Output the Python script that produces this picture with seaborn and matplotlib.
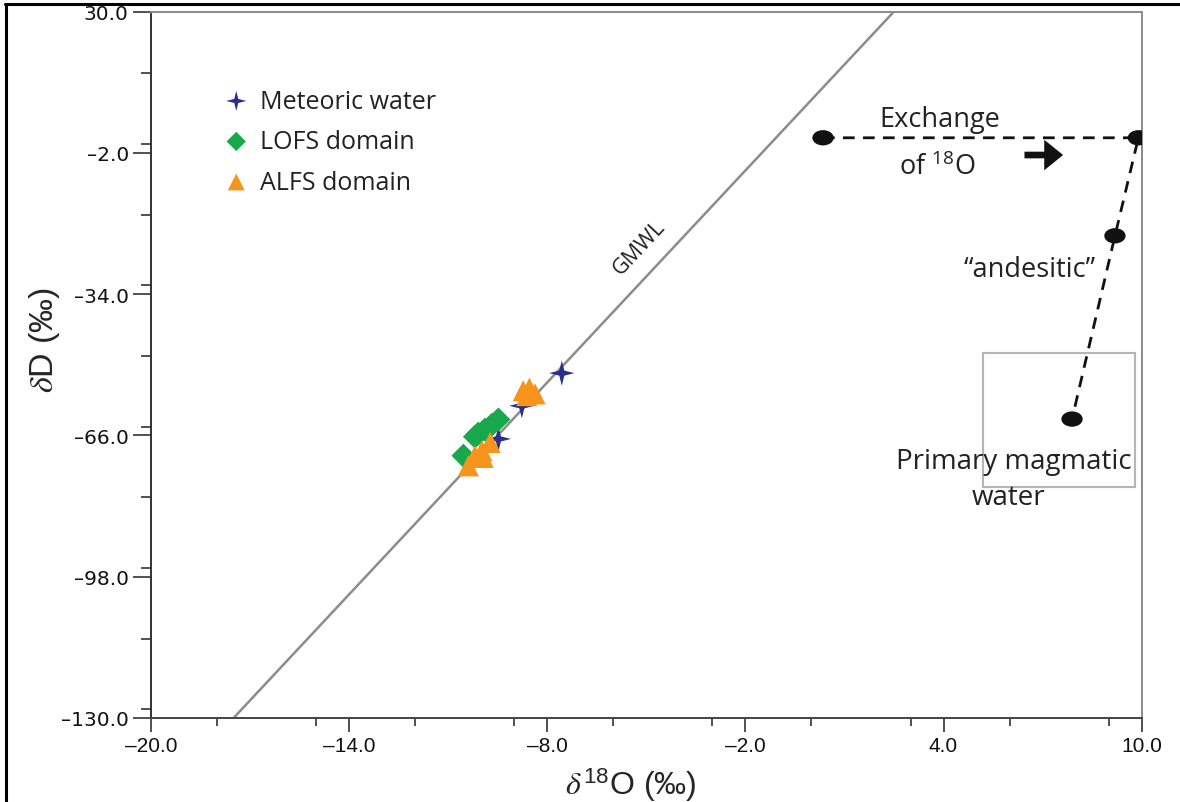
import matplotlib
matplotlib.use("Agg")
import numpy as np
import pandas as pd
import matplotlib.pyplot as plt
from matplotlib.path import Path
from matplotlib.lines import Line2D
from matplotlib.patches import Rectangle
from matplotlib.ticker import MultipleLocator, FuncFormatter
import seaborn as sns

# ---- sample data (δ18O, δD in ‰) ----
meteoric_d18o = [-7.56, -8.77, -9.48]
meteoric_dd = [-51.9, -59.3, -66.8]

lofs_d18o = [-9.48, -9.68, -9.89, -10.09, -10.19, -10.54]
lofs_dd = [-62.4, -63.6, -64.7, -65.6, -66.3, -70.6]

alfs_d18o = [-8.73, -8.54, -8.37, -8.62, -9.73, -9.98, -10.19, -9.94, -10.39]
alfs_dd = [-55.9, -55.3, -56.6, -57.0, -67.6, -69.5, -70.6, -71.0, -72.9]

# magmatic-water evolution path: exchange start, exchange end, andesitic, primary
magma_d18o = [0.35, 9.9, 9.19, 7.89]
magma_dd = [1.4, 1.4, -20.8, -62.3]

# primary magmatic water field
box_d18o = [5.19, 9.80]
box_dd = [-77.7, -47.4]

# Global Meteoric Water Line: δD = 8 δ18O + 10
gmwl_slope = 8.0
gmwl_intercept = 10.0

x_ticks = [-20.0, -14.0, -8.0, -2.0, 4.0, 10.0]
y_ticks = [30.0, -2.0, -34.0, -66.0, -98.0, -130.0]

series_names = ["Meteoric water", "LOFS domain", "ALFS domain"]
series_colors = ["#2b2e8c", "#16a84a", "#f7941d"]

sns.set_theme(style="white")
plt.rcParams["font.family"] = ["Open Sans", "DejaVu Sans"]
plt.rcParams["mathtext.fontset"] = "stix"

fig = plt.figure(figsize=(11.8, 8.03), dpi=100)
ax = fig.add_axes([151 / 1180, 1 - 719 / 803, 990.7 / 1180, 706.5 / 803])

# 4-pointed star marker
star = Path([(0, 1), (0.2, 0.2), (1, 0), (0.2, -0.2), (0, -1), (-0.2, -0.2),
             (-1, 0), (-0.2, 0.2), (0, 1)],
            [Path.MOVETO] + [Path.LINETO] * 7 + [Path.CLOSEPOLY])
# flattened ellipse marker
circ = Path.unit_circle()
ellipse = Path(circ.vertices * np.array([1.0, 0.72]), circ.codes)

# GMWL
ax.axline((0, gmwl_intercept), slope=gmwl_slope, color="#8c8c8c", lw=1.8, zorder=1)
ax.text(-5.2, -23.4, "GMWL", rotation=47, ha="center", va="center",
        rotation_mode="anchor", fontsize=15.5, color="#222222")

# samples
df_met = pd.DataFrame({"d18O": meteoric_d18o, "dD": meteoric_dd})
df_lofs = pd.DataFrame({"d18O": lofs_d18o, "dD": lofs_dd})
df_alfs = pd.DataFrame({"d18O": alfs_d18o, "dD": alfs_dd})

sns.scatterplot(data=df_met, x="d18O", y="dD", marker=star, s=330,
                color=series_colors[0], edgecolor="none", ax=ax,
                label=series_names[0], zorder=3)
sns.scatterplot(data=df_lofs, x="d18O", y="dD", marker="D", s=150,
                color=series_colors[1], edgecolor="none", ax=ax,
                label=series_names[1], zorder=4)
sns.scatterplot(data=df_alfs, x="d18O", y="dD", marker="^", s=230,
                color=series_colors[2], edgecolor="none", ax=ax,
                label=series_names[2], zorder=5)

# magmatic water path
ax.plot(magma_d18o, magma_dd, color="#111111", lw=2.0,
        linestyle=(0, (4.2, 3.0)), zorder=2)
df_mag = pd.DataFrame({"d18O": magma_d18o, "dD": magma_dd})
sns.scatterplot(data=df_mag, x="d18O", y="dD", marker=ellipse, s=235,
                color="#111111", edgecolor="none", ax=ax, zorder=6, legend=False)

ax.add_patch(Rectangle((box_d18o[0], box_dd[0]), box_d18o[1] - box_d18o[0],
                       box_dd[1] - box_dd[0], fill=False, ec="#b5b5b5", lw=1.5, zorder=1))

# annotations
ax.text(3.9, 5.6, "Exchange", ha="center", va="center", fontsize=19.5, color="#222222")
ax.text(3.8, -5.2, r"of $\mathregular{^{18}}$O", ha="center", va="center",
        fontsize=19.5, color="#222222")
ax.annotate("", xy=(7.62, -2.5), xytext=(6.45, -2.5),
            arrowprops=dict(arrowstyle="simple,head_length=0.68,head_width=1.1,tail_width=0.24",
                            lw=0, color="#111111", mutation_scale=20,
                            shrinkA=0, shrinkB=0))
ax.text(6.62, -28.4, "\u201candesitic\u201d", ha="center", va="center",
        fontsize=19.5, color="#222222")
ax.text(6.12, -71.9, "Primary magmatic", ha="center", va="center",
        fontsize=20, color="#222222")
ax.text(5.98, -80.0, "water", ha="center", va="center",
        fontsize=20, color="#222222")

# axes
ax.set_xlim(x_ticks[0], x_ticks[-1])
ax.set_ylim(y_ticks[-1], y_ticks[0])
ax.set_xticks(x_ticks)
ax.set_yticks(y_ticks)
ax.xaxis.set_minor_locator(MultipleLocator(3))
ax.yaxis.set_minor_locator(MultipleLocator(16))
fmt = FuncFormatter(lambda v, p: f"{v:.1f}".replace("-", "\u2013"))
ax.xaxis.set_major_formatter(fmt)
ax.yaxis.set_major_formatter(fmt)
ax.tick_params(axis="y", which="major", direction="out", length=13, width=1.2,
               color="#333333", pad=3, left=True, labelsize=14.5, labelcolor="#111111",
               labelfontfamily="DejaVu Sans")
ax.tick_params(axis="y", which="minor", direction="out", length=7.5, width=1.2,
               color="#333333", left=True)
ax.tick_params(axis="x", which="major", direction="out", length=10, width=1.2,
               color="#333333", pad=3, bottom=True, labelsize=15, labelcolor="#111111",
               labelfontfamily="Liberation Sans")
ax.tick_params(axis="x", which="minor", direction="out", length=6, width=1.2,
               color="#333333", bottom=True)

for side, col in [("left", "#333333"), ("bottom", "#444444"),
                  ("top", "#8a8a8a"), ("right", "#8a8a8a")]:
    ax.spines[side].set_visible(True)
    ax.spines[side].set_color(col)
    ax.spines[side].set_linewidth(1.4)

ax.set_xlabel(r"$\delta^{\mathregular{18}}$O (‰)", fontsize=23, family="Liberation Sans")
ax.set_ylabel(r"$\delta$D (‰)", fontsize=24.5, family="Liberation Sans")
ax.xaxis.label.set_va("center")
ax.yaxis.label.set_va("center")
ax.xaxis.set_label_coords(0.4845, -0.0934)
ax.yaxis.set_label_coords(-0.107, 0.536)

leg = ax.legend(loc="upper left", bbox_to_anchor=(0.0747, 0.891), frameon=False,
                fontsize=18, handlelength=0.9, handletextpad=0.5,
                labelspacing=0.62, borderpad=0, borderaxespad=0, markerscale=0.8)
for t in leg.get_texts():
    t.set_color("#222222")

# outer frame (top and left edges)
fig.add_artist(Line2D([5 / 1180, 1], [1 - 5 / 803, 1 - 5 / 803], color="black",
                      lw=2.2, transform=fig.transFigure))
fig.add_artist(Line2D([6 / 1180, 6 / 1180], [0, 1 - 5 / 803], color="black",
                      lw=2.2, transform=fig.transFigure))

fig.savefig("out.png", dpi=100)
